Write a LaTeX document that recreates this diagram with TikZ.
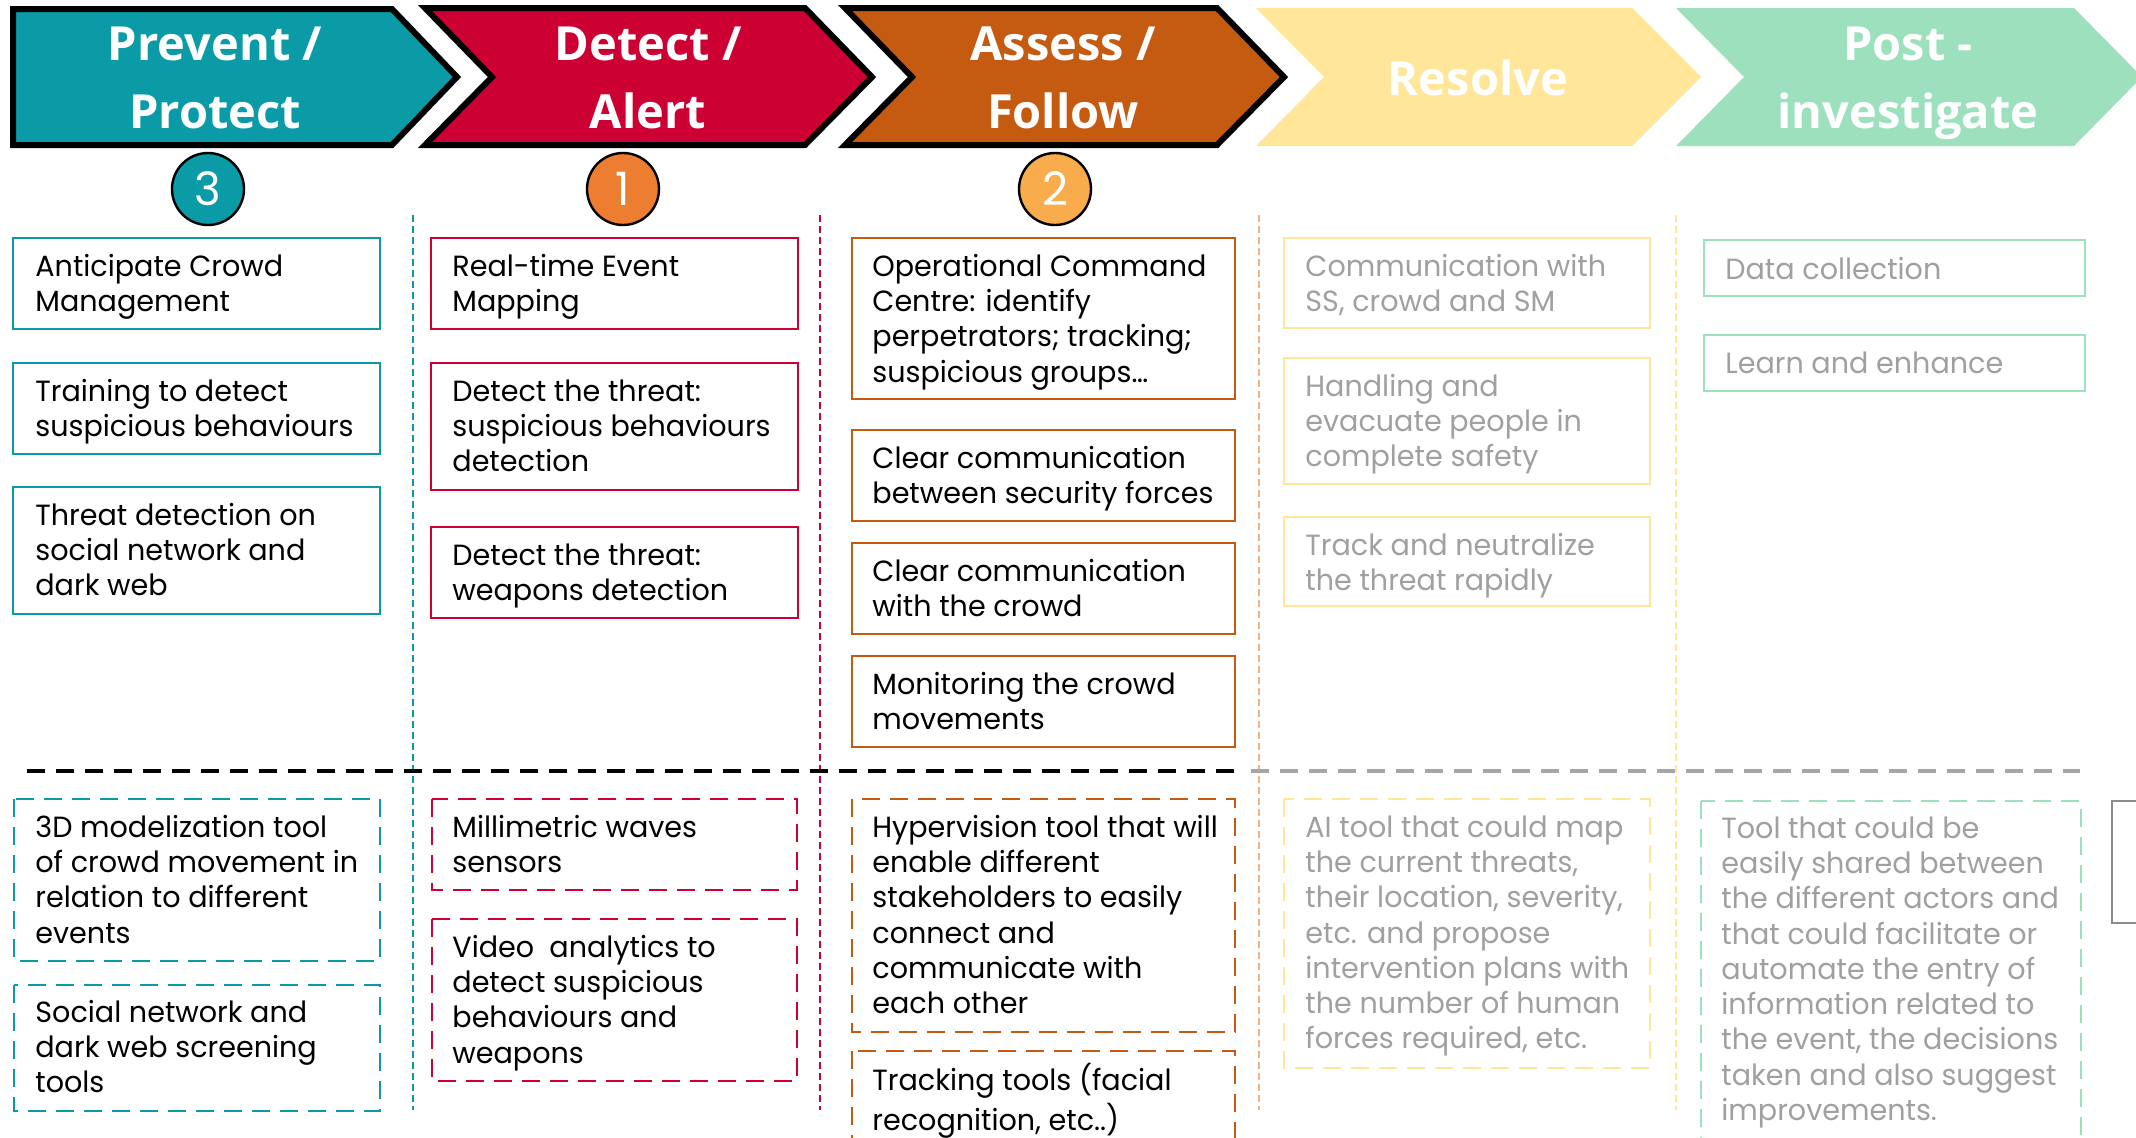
\documentclass[tikz,border=0pt]{standalone}
\usepackage{fontspec}
\setmainfont{Poppins}[FakeStretch=0.98]
\newfontfamily\headfont{Open Sans}
\definecolor{cteal}{HTML}{0A9BA7}
\definecolor{ccrim}{HTML}{CC0033}
\definecolor{cbrown}{HTML}{C55A11}
\definecolor{cyel}{HTML}{FFE699}
\definecolor{cgreen}{HTML}{9CE0BD}
\definecolor{corange}{HTML}{ED7D31}
\definecolor{clight}{HTML}{F8AC4C}
\definecolor{cpeach}{HTML}{F4B183}
\definecolor{ctext}{HTML}{A0A0A0}
\definecolor{cgline}{HTML}{A6A6A6}
\definecolor{cgbox}{HTML}{8C8C8C}
\newcommand\tbox[7]{%
  \draw[#1] (#4) rectangle (#5);
  \node[#2] (#6) at ([shift={(#3)}]#4) {\strut #7};}
\begin{document}
\begin{tikzpicture}[x=0.5pt,y=-0.5pt,
  chev/.style={line width=3pt, line join=miter, draw=black},
  headtxt/.style={text=white, font=\headfont\bfseries\fontsize{23.5pt}{34pt}\selectfont, align=center, inner sep=0pt, anchor=north},
  num/.style={circle, draw=black, line width=1.2pt, minimum size=36pt, inner sep=0pt, text=white, font=\fontsize{23pt}{23pt}\selectfont},
  sepline/.style={line width=1pt, dash pattern=on 3.5pt off 2pt},
  solidbox/.style={line width=1.3pt},
  dashbox/.style={line width=1.3pt, dash pattern=on 9pt off 5pt},
  txt/.style={inner sep=0pt, align=left, anchor=north west, font=\fontsize{14.6pt}{17.65pt}\selectfont, text=black},
  greytxt/.style={txt, text=ctext},
  hline/.style={line width=2pt, dash pattern=on 9pt off 5.5pt},
]
\useasboundingbox (0,0) rectangle (2136,1137);
\clip (0,0) rectangle (2136,1137);
\fill[white] (0,0) rectangle (2136,1137);

% header chevrons
\filldraw[chev, fill=cteal] (13,9) -- (392,9) -- (457,77) -- (392,145) -- (13,145) -- cycle;
\filldraw[chev, fill=ccrim] (425,8) -- (805,8) -- (872,77) -- (805,145) -- (425,145) -- (492,77) -- cycle;
\filldraw[chev, fill=cbrown] (845,8) -- (1217,8) -- (1284,77) -- (1217,145) -- (845,145) -- (912,77) -- cycle;
\fill[cyel] (1256,8) -- (1632,8) -- (1701,77) -- (1632,146) -- (1256,146) -- (1324,77) -- cycle;
\fill[cgreen] (1676,8) -- (2074,8) -- (2142,77) -- (2074,146) -- (1676,146) -- (1744,77) -- cycle;

\node[headtxt] (h1) at (215,12) {\strut Prevent /\\Protect};
\node[headtxt] (h2) at (648,12) {\strut Detect /\\Alert};
\node[headtxt] (h3) at (1063,12) {\strut Assess /\\Follow};
\node[headtxt] (h4) at (1478,47) {\strut Resolve};
\node[headtxt] (h5) at (1908,12) {\strut Post -\\investigate};

% number circles
\node[num, fill=cteal] (n3) at (208,189) {3};
\node[num, fill=corange] (n1) at (623,189) {1};
\node[num, fill=clight] (n2) at (1055,189) {2};

% column separators
\draw[sepline, cteal] (413,215) -- (413,1110);
\draw[sepline, ccrim] (819.5,215) -- (819.5,1110);
\draw[sepline, cpeach] (1259,215) -- (1259,1110);
\draw[sepline, cyel] (1676,215) -- (1676,1110);

% horizontal divider
\draw[hline, black] (27,771) -- (1240,771);
\draw[hline, cgline] (1251,771) -- (2080,771);

% column 1
\tbox{solidbox, draw=cteal}{txt}{22,13}{13,238}{380,329}{a1}{Anticipate Crowd\\Management}
\tbox{solidbox, draw=cteal}{txt}{22,13}{13,363}{380,454}{a2}{Training to detect\\suspicious behaviours}
\tbox{solidbox, draw=cteal}{txt}{22,13}{13,487}{380,614}{a3}{Threat detection on\\social network and\\dark web}
% column 2
\tbox{solidbox, draw=ccrim}{txt}{21,13}{431,238}{798,329}{b1}{Real-time Event\\Mapping}
\tbox{solidbox, draw=ccrim}{txt}{21,13}{431,363}{798,490}{b2}{Detect the threat:\\suspicious behaviours\\detection}
\tbox{solidbox, draw=ccrim}{txt}{21,13}{431,527}{798,618}{b3}{Detect the threat:\\weapons detection}
% column 3
\tbox{solidbox, draw=cbrown}{txt}{20,13}{852,238}{1235,399}{c1}{Operational Command\\Centre: identify\\perpetrators; tracking;\\suspicious groups…}
\tbox{solidbox, draw=cbrown}{txt}{20,13}{852,430}{1235,521}{c2}{Clear communication\\between security forces}
\tbox{solidbox, draw=cbrown}{txt}{20,13}{852,543}{1235,634}{c3}{Clear communication\\with the crowd}
\tbox{solidbox, draw=cbrown}{txt}{20,13}{852,656}{1235,747}{c4}{Monitoring the crowd\\movements}
% column 4
\tbox{solidbox, draw=cyel}{greytxt}{21,13}{1284,238}{1650,328}{d1}{Communication with\\SS, crowd and SM}
\tbox{solidbox, draw=cyel}{greytxt}{21,13}{1284,358}{1650,484}{d2}{Handling and\\evacuate people in\\complete safety}
\tbox{solidbox, draw=cyel}{greytxt}{21,13}{1284,517}{1650,606}{d3}{Track and neutralize\\the threat rapidly}
% column 5
\tbox{solidbox, draw=cgreen}{greytxt}{21,14}{1704,240}{2085,296}{e1}{Data collection}
\tbox{solidbox, draw=cgreen}{greytxt}{21,13}{1704,335}{2085,391}{e2}{Learn and enhance}

% lower tools
\tbox{dashbox, draw=cteal}{txt}{21,13}{14,799}{380,961}{f1}{3D modelization tool\\of crowd movement in\\relation to different\\events}
\tbox{dashbox, draw=cteal}{txt}{21,12}{14,985}{380,1111}{f2}{Social network and\\dark web screening\\tools}
\tbox{dashbox, draw=ccrim}{txt}{20,13}{432,799}{797,890}{g1}{Millimetric waves\\sensors}
\tbox{dashbox, draw=ccrim}{txt}{20,13}{432,919}{797,1081}{g2}{Video\ \ analytics to\\detect suspicious\\behaviours and\\weapons}
\tbox{dashbox, draw=cbrown}{txt}{20,13}{852,799}{1235,1032}{h1}{Hypervision tool that will\\enable different\\stakeholders to easily\\connect and\\communicate with\\each other}
\tbox{dashbox, draw=cbrown}{txt}{20,12}{852,1051}{1235,1170}{h2}{Tracking tools (facial\\recognition, etc..)}
\tbox{dashbox, draw=cyel}{greytxt}{21,13}{1284,799}{1650,1068}{i1}{AI tool that could map\\the current threats,\\their location, severity,\\etc. and propose\\intervention plans with\\the number of human\\forces required, etc.}
\tbox{dashbox, draw=cgreen}{greytxt}{20,12}{1701,801}{2081,1170}{j1}{Tool that could be\\easily shared between\\the different actors and\\that could facilitate or\\automate the entry of\\information related to\\the event, the decisions\\taken and also suggest\\improvements.}

% partial grey box at right edge
\draw[line width=1.2pt, cgbox] (2112,801) rectangle (2180,923);
\end{tikzpicture}
\end{document}
